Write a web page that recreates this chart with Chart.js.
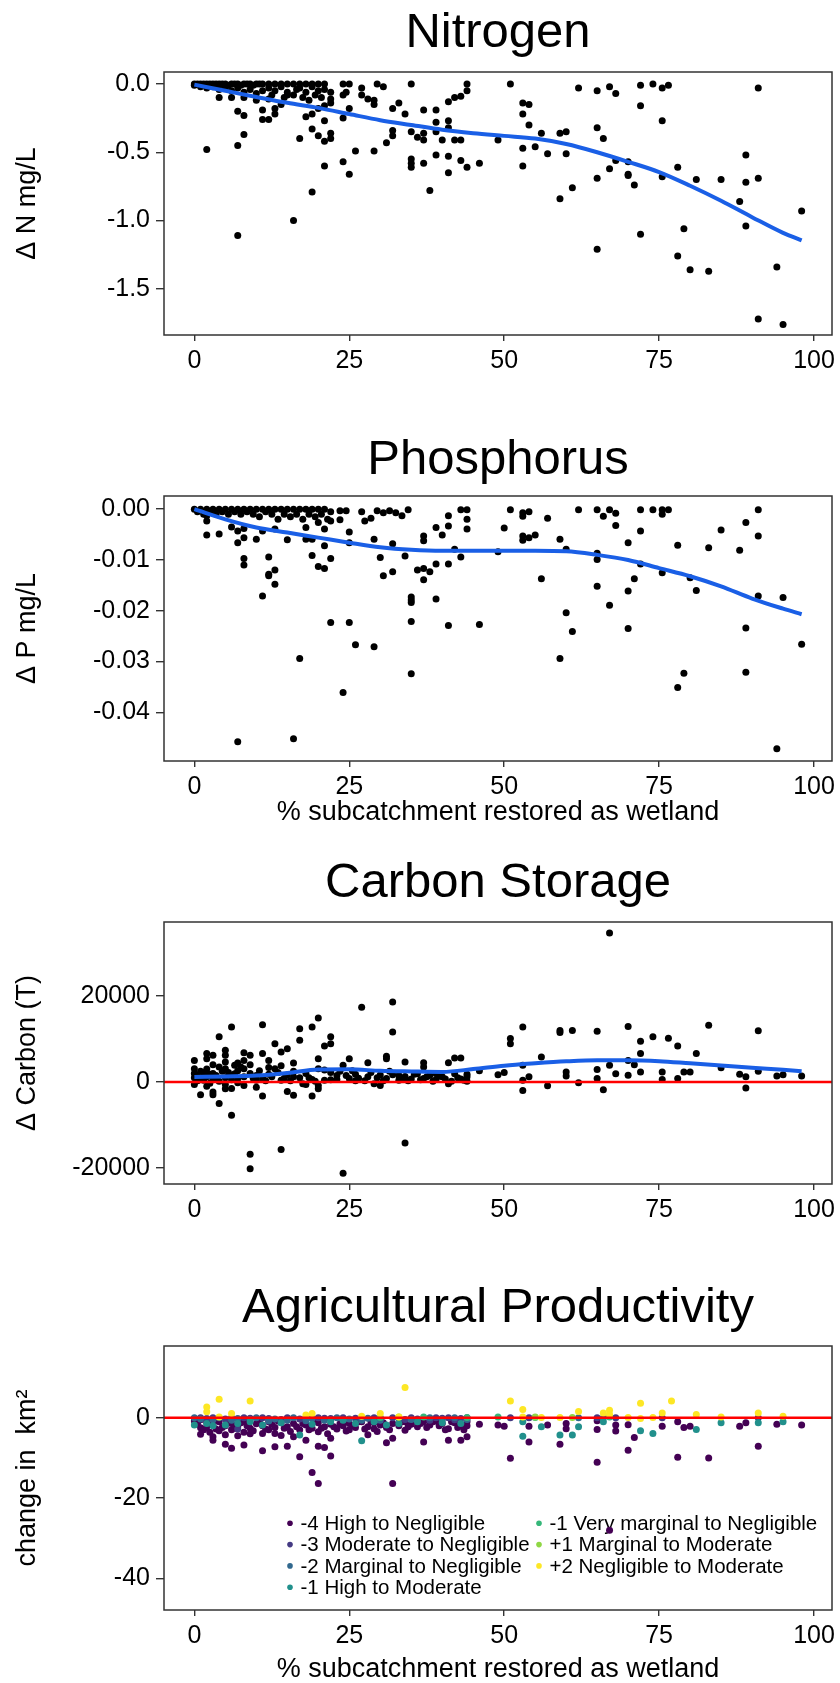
<!DOCTYPE html>
<html><head><meta charset="utf-8">
<script src="https://cdn.jsdelivr.net/npm/chart.js@4.4.1/dist/chart.umd.min.js"></script>
<style>
html,body{margin:0;padding:0;background:#fff;overflow:hidden;width:840px;height:1683px;}
.panel{position:absolute;left:0;}
canvas{display:block;}
</style></head><body>
<div class="panel" style="top:0px"><canvas id="c1" width="860" height="400"></canvas></div>
<div class="panel" style="top:400px"><canvas id="c2" width="860" height="440"></canvas></div>
<div class="panel" style="top:830px"><canvas id="c3" width="860" height="400"></canvas></div>
<div class="panel" style="top:1230px"><canvas id="c4" width="860" height="470"></canvas></div>
<script>
const FONT = "'Liberation Sans', Arial, sans-serif";

// ---------- shared x axis ----------
const xTicks = [0, 25, 50, 75, 100];
const xMin = -4.9, xMax = 102.9;
const xTitle = '% subcatchment restored as wetland';

// ---------- smoothers (loess) ----------
const smoothX = [0,5,10,15,20,25,30,35,40,45,50,55,60,65,70,75,80,85,90,95,98];
const nSmooth = [-0.005,-0.05,-0.095,-0.138,-0.175,-0.22,-0.265,-0.3,-0.335,-0.36,-0.38,-0.40,-0.44,-0.50,-0.57,-0.645,-0.745,-0.855,-0.975,-1.09,-1.145];
const pSmooth = [0,-0.0020,-0.0036,-0.0046,-0.0056,-0.0066,-0.0075,-0.0080,-0.0082,-0.0082,-0.0082,-0.0082,-0.0083,-0.0090,-0.0100,-0.0116,-0.0132,-0.0152,-0.0176,-0.0196,-0.0207];
const cSmooth = [1160,1300,1500,2100,2900,2950,2600,2450,2350,3000,3800,4350,4800,5050,5050,4850,4350,3850,3300,2850,2500];

// ---------- Nitrogen ----------
const nTicks = [0, -0.5, -1.0, -1.5];
const nitrogenPts = [
[0,0],[0,-0.01],[0.5,0],[1,0],[1,-0.02],[1.5,0],[2,0],[2,-0.03],[2.5,0],[3,0],[3,-0.02],[3.5,0],[4,0],[4,-0.04],[4.5,0],[5,0],[5,-0.03],[5.5,-0.01],[6,0],[6,-0.05],[6.5,0],[7,0],[7,-0.03],[7.5,-0.01],[8,0],[8,-0.06],[8.5,0],[9,0],[9,-0.04],[9.5,-0.01],[10,0],[10,-0.07],[10.5,0],[11,0],[11,-0.05],[12,0],[12,-0.03],[12.5,-0.08],[13,0],[13,-0.05],[14,0],[14,-0.02],[14.5,-0.1],[15,0],[15,-0.06],[16,0],[16,-0.08],[16.5,-0.04],[17,0],[17,-0.03],[17.5,-0.1],[18,0],[18,-0.06],[18.5,-0.12],[19,0],[19,-0.02],[19.5,-0.08],[20,0],[20,-0.05],[20.5,-0.1],[21,0],[21,-0.04],
[2,-0.48],[4,-0.1],[6,-0.1],[7,-0.45],[7,-1.11],[8,-0.37],[7,-0.2],[8,-0.23],[8,-0.1],[10,-0.12],[11,-0.19],[11,-0.26],[12,-0.26],[12,-0.11],[13,-0.18],[13,-0.22],[14,-0.15],[15,-0.08],[16,-1.0],[17,-0.4],[18,-0.24],[19,-0.22],[19,-0.33],[19,-0.79],[20,-0.38],[20,-0.18],[21,-0.42],[21,-0.27],[21,-0.6],[21,-0.16],[22,-0.36],[22,-0.4],[22,-0.14],[22,-0.11],[22,-0.06],[24,-0.57],[25,-0.66],[25,-0.18],[24,-0.25],[24,-0.08],[24.5,-0.06],[24,0],[25,0],[26,-0.49],[27,-0.03],[27,-0.08],[28,-0.11],[29,-0.12],[29,-0.15],[29,-0.49],[29.5,0],[30.5,-0.02],[31,-0.43],[32,-0.38],[32,-0.34],[32,-0.18],[33,-0.14],[34,-0.22],[35,-0.35],[35,0],[35,-0.55],[35,-0.58],[35,-0.61],[36,-0.39],[37,-0.36],[37,-0.41],[37,-0.19],[38,-0.78],[37,-0.58],[39,-0.19],[39,-0.28],[39,-0.35],[39,-0.52],[40,-0.41],[41,-0.27],[41,-0.32],[41,-0.13],[41,-0.53],[41,-0.65],[42,-0.41],[43,-0.41],[42,-0.1],[43,-0.09],[43,-0.56],[44,-0.61],[44,0],[44,-0.05],[46,-0.58],[49,-0.41],
[51,0],[53,-0.14],[54,-0.15],[53,-0.22],[54,-0.30],[53,-0.47],[53,-0.60],[55,-0.46],[56,-0.36],[57,-0.51],[59,-0.36],[60,-0.35],[60,-0.51],[59,-0.84],[61,-0.76],[62,-0.03],[65,-0.05],[65,-0.32],[65,-0.69],[65,-1.21],[66,-0.40],[67,-0.02],[68,-0.07],[68,-0.56],[67,-0.62],[70,-0.57],[70,-0.66],[70,-0.67],[71,-0.74],[72,-0.01],[72,-0.16],[72,-1.10],[74,0],[75.5,-0.03],[76.5,-0.01],[75.5,-0.27],[75.5,-0.68],[78,-0.61],[78,-1.26],[79,-1.06],[80,-1.36],[83,-1.37],[81,-0.70],[85,-0.70],[88,-0.86],[89,-0.52],[89,-0.72],[89,-1.04],[91,-0.03],[91,-0.69],[91,-1.72],[95,-1.76],[94,-1.34],[98,-0.93]
];

// ---------- Phosphorus ----------
const pTicks = [0, -0.01, -0.02, -0.03, -0.04];
const phosphorusPts = [
[0,0],[0.5,-0.0005],[1,0],[1.5,-0.001],[2,0],[2.5,-0.0005],[3,0],[3.5,-0.001],[4,0],[4.5,-0.0005],[5,0],[5.5,-0.001],[6,0],[6.5,-0.0005],[7,0],[7.5,-0.001],[8,0],[8.5,-0.0005],[9,0],[9.5,-0.001],[10,0],[10.5,-0.0015],[11,0],[11.5,-0.0005],[12,0],[12.5,-0.001],[13,0],[13.5,-0.002],[14,0],[14.5,-0.001],[15,0],[15.5,-0.0015],[16,0],[16.5,-0.001],[17,0],[17.5,-0.002],[18,0],[18.5,-0.001],[19,0],[19.5,-0.0015],[20,0],[20.5,-0.001],[21,0],[21.5,-0.002],[22,-0.0005],
[7,-0.0458],[16,-0.0452],[17,-0.0294],[24,-0.0361],[22,-0.0223],[25,-0.0223],[26,-0.0267],[29,-0.0271],[35,-0.0324],[35,-0.0221],[35,-0.0173],[35,-0.0179],[35,-0.0184],[39,-0.0177],[41,-0.0229],[46,-0.0227],[11,-0.0171],[12,-0.0094],[12,-0.0128],[13,-0.0120],[12,-0.0131],[13,-0.0148],[8,-0.0097],[8,-0.0110],[2,-0.0051],[4,-0.0049],[2,-0.0023],[2,-0.0013],[6,-0.0035],[7,-0.0043],[8,-0.0038],[7,-0.0066],[8,-0.0056],[10,-0.0059],[11,-0.0043],[13,-0.0039],[15,-0.0060],[18,-0.0059],[19,-0.0059],[18,-0.0036],[19,-0.0091],[20,-0.0113],[21,-0.0117],[21,-0.0072],[22,-0.0097],[21,-0.0039],[22,-0.0023],[20,-0.0026],[25,-0.0045],[25,-0.0066],[23.5,-0.0003],[23.5,-0.0021],[24.5,-0.0003],[27,-0.0005],[27.5,-0.0023],[28.5,-0.0018],[29.5,-0.0003],[30.5,-0.0007],[31.5,-0.0003],[32.5,-0.0007],[33.5,-0.0013],[34.5,-0.0001],[29,-0.0059],[30,-0.0095],[30.5,-0.0131],[32,-0.0123],[32,-0.0068],[34,-0.0092],[36,-0.0120],[37,-0.0117],[37,-0.0139],[38,-0.0123],[37,-0.0053],[37,-0.0062],[39,-0.0036],[39,-0.0108],[40,-0.0051],[41,-0.0013],[41,-0.0033],[41,-0.0108],[42,-0.0079],[43,-0.0094],[43,-0.0001],[44,-0.0001],[44,-0.0020],[44,-0.0039],[49,-0.0084],
[51,-0.0001],[50,-0.0037],[53,-0.0007],[53,-0.0014],[54,-0.0005],[53,-0.0053],[53,-0.0061],[54,-0.0056],[55,-0.0051],[57,-0.0018],[56,-0.0137],[59,-0.0059],[60,-0.0079],[59,-0.0294],[60,-0.0204],[61,-0.0241],[62,-0.0001],[65,-0.0001],[65,-0.0087],[65,-0.0099],[65,-0.0152],[66,-0.0014],[67,-0.0001],[68,-0.0008],[68,-0.0032],[67,-0.0189],[70,-0.0066],[70,-0.0161],[70,-0.0235],[71,-0.0137],[72,-0.0001],[72,-0.0043],[72,-0.0108],[74,-0.0001],[75.5,-0.0001],[75.5,-0.0010],[76.5,-0.0001],[75.5,-0.0125],[78,-0.0071],[78,-0.0351],[79,-0.0323],[80,-0.0135],[81,-0.0160],[83,-0.0076],[85,-0.0041],[88,-0.0081],[89,-0.0026],[89,-0.0234],[89,-0.0321],[91,-0.0001],[91,-0.0053],[91,-0.0171],[94,-0.0472],[95,-0.0174],[98,-0.0266]
];

// ---------- Carbon ----------
const cTicks = [20000, 0, -20000];
const carbonPts = [
[0,5000],[0,3100],[0,-600],[0,1000],[0,2000],[0.5,1500],[1,-2950],[1,800],[1,2500],[1.5,400],[2,6600],[2,5400],[2,3000],[2,1200],[2.5,-300],[3,6200],[3,-2300],[3,-2950],[3,2000],[3,600],[3.5,1500],[4,10500],[4,-5000],[4,3500],[4,200],[5,7400],[5,6200],[5,4650],[5,3100],[5,-1550],[5,1000],[5.5,2200],[6,12800],[6,-7750],[6,500],[6.5,3900],[6.5,1900],[7,-200],[7,2600],[8,6800],[9,6200],[8,5000],[8,3100],[8,-800],[8,1200],[9,-16800],[9,-20150],[9,2000],[10,400],[10,1500],[11,13300],[11,6600],[11,-3250],[11,800],[12,5000],[12,1800],[13,8900],[13,3100],[14,7000],[14,-15700],[14,400],[15,7750],[15,-2200],[15,1600],[16,-3100],[16,2500],[17,12400],[17,9700],[17,1000],[17.5,-400],[18,2000],[19,12800],[20,14900],[19,-3250],[20,5400],[20,3100],[20,-800],[20,-1550],[19,600],[21,8400],[22,10500],[22,8900],[22,2200],[22,500],[23,1500],[24,-21200],[24,3900],[25,5400],[25,800],[26,1800],[26,300],[27,17400],[28,4500],[28,1200],[29,-400],[30,-800],[30,1600],[31,6000],[31,5400],[31,800],[32,18600],[32,11600],[32,1700],[33,400],[34,4650],[34,-14200],[34,1300],[35,700],[36,1900],[37,4500],[37,3500],[37,800],[38,1500],[39,600],[39,2000],[40,1200],[41,4500],[42,5600],[43,5600],[41,-400],[42,1900],[43,700],[44,200],[44,1800],[46,2600],[49,1700],[50,2200],
[0.5,300],[1.5,2200],[2.5,1800],[3.5,700],[4.5,2500],[6,1500],[7,800],[7.5,3500],[9.5,900],[10.5,2600],[11.5,300],[12.5,1200],[13.5,2200],[14.5,900],[15.5,300],[16,1200],[18.5,1000],[19.5,200],[21,400],[21,2800],[23,600],[23.5,2500],[24.5,1500],[25.5,2600],[26.5,900],[27.5,300],[28.5,2200],[29.5,1000],[30.5,300],[31.5,2500],[33,1500],[33.5,700],[34.5,300],[35.5,1800],[36.5,500],[37.5,1200],[38.5,200],[39.5,1400],[40.5,700],[41.5,200],[42.5,1000],[43.5,400],[44,1200],[3,4000],[5,-600],[7,4400],[9,4000],[10,-1200],[12,3400],[14,3800],[16,4400],[18,-600],[2,-1000],[6,-1500],
[51,10100],[51,8900],[53,12800],[53,3900],[53,400],[53,-1950],[54,1200],[56,5800],[57,-900],[59,12000],[59,11500],[60,2300],[60,1400],[61,12000],[62,-200],[65,11800],[65,2900],[65,800],[66,-1800],[67,34650],[67,3900],[68,1900],[70,12900],[70,5000],[70,1550],[71,4000],[72,9500],[72,6600],[72,2300],[74,10500],[75.5,2300],[75.5,600],[76.5,10200],[78,8400],[78,800],[79,2300],[80,2300],[81,6600],[83,13200],[85,3300],[88,1800],[89,1200],[89,-1400],[91,11900],[91,2500],[94,1400],[95,1700],[98,1400]
];

// ---------- Agricultural productivity ----------
const aTicks = [0, -20, -40];
const catLabels = ['-4 High to Negligible','-3 Moderate to Negligible','-2 Marginal to Negligible','-1 High to Moderate','-1 Very marginal to Negligible','+1 Marginal to Moderate','+2 Negligible to Moderate'];
const catColors = ['#440154','#443A83','#31688E','#21908C','#35B779','#8FD744','#FDE725'];
const agriPts = [
[0,-0.8,0],[0.5,-1.5,0],[1,-2.5,0],[1,-0.5,0],[1.5,-3.0,0],[2,-1.2,0],[2,-2.2,0],[2.5,-3.6,0],[3,-4.7,0],[3,-5.6,0],[3,-1.8,0],[3.5,-2.8,0],[4,-1.0,0],[4,-3.2,0],[5,-6.6,0],[5,-4.2,0],[5,-2.0,0],[1,-4.1,0],[6,-7.6,0],[6,-3.0,0],[6,-1.4,0],[7,-2.2,0],[7,-4.5,0],[8,-6.8,0],[8,-3.6,0],[8,-1.0,0],[9,-2.6,0],[9,-4.0,0],[10,-1.5,0],[11,-8.2,0],[11,-3.9,0],[11,-2.0,0],[12,-1.0,0],[12,-3.0,0],[13,-7.2,0],[13,-3.9,0],[13,-2.4,0],[14,-1.2,0],[14,-4.4,0],[15,-7.1,0],[15,-2.2,0],[16,-4.7,0],[16,-1.4,0],[17,-9.7,0],[17,-3.0,0],[18,-5.6,0],[18,-1.8,0],[19,-13.6,0],[19,-2.6,0],[20,-16.4,0],[20,-7.1,0],[20,-3.5,0],[20,-1.2,0],[21,-7.4,0],[21,-2.2,0],[22,-9.5,0],[22,-5.1,0],[22,-1.6,0],[23,-2.8,0],[24,-1.0,0],[24,-2.0,0],[25,-3.0,0],[25,-1.4,0],[26,-2.4,0],[27,-1.0,0],[28,-4.2,0],[28,-2.2,0],[29,-2.7,0],[29,-1.2,0],[30,-1.8,0],[31,-6.2,0],[31,-2.4,0],[32,-16.4,0],[32,-5.1,0],[32,-1.4,0],[33,-2.0,0],[34,-3.1,0],[34,-1.0,0],[35,-1.6,0],[36,-2.2,0],[37,-6.0,0],[37,-1.0,0],[38,-1.8,0],[39,-0.8,0],[40,-1.4,0],[41,-2.7,0],[41,-5.6,0],[42,-1.2,0],[43,-5.6,0],[43,-2.0,0],[44,-4.7,0],[44,-1.0,0],[46,-1.6,0],
[0.5,-0.4,0],[2.5,-1.0,0],[3.5,-0.6,0],[4.5,-2.4,0],[5.5,-0.8,0],[6.5,-2.6,0],[7.5,-1.2,0],[8.5,-2.0,0],[9.5,-3.2,0],[10.5,-1.0,0],[11.5,-2.8,0],[12.5,-1.6,0],[13.5,-0.8,0],[14.5,-2.6,0],[15.5,-3.4,0],[16.5,-2.2,0],[17.5,-1.4,0],[18.5,-3.0,0],[19.5,-0.8,0],[20.5,-2.6,0],[21.5,-4.0,0],[22.5,-2.2,0],[23.5,-1.5,0],[24.5,-3.3,0],[25.5,-2.0,0],[26.5,-1.0,0],[27.5,-2.8,0],[28.5,-1.0,0],[29.5,-3.4,0],[30.5,-1.2,0],[31.5,-3.0,0],[33.5,-1.0,0],[34.5,-2.2,0],[35.5,-0.8,0],[36.5,-1.4,0],[37.5,-2.4,0],[38.5,-1.0,0],[39.5,-2.0,0],[40.5,-3.0,0],[41.5,-1.0,0],[42.5,-2.4,0],[43.5,-3.0,0],[44,-2.0,0],
[49,-1.8,0],[50,-2.1,0],[51,-10.1,0],[54,-2.1,0],[54,-6.0,0],[57,-1.8,0],[59,-6.6,0],[60,-1.4,0],[60,-2.7,0],[65,-2.9,0],[65,-0.7,0],[65,-11.1,0],[67,-28,0],[68,-1.8,0],[68,-3.3,0],[70,-1.7,0],[70,-8.1,0],[71,-4.9,0],[75.5,-2.1,0],[78,-1.0,0],[78,-9.8,0],[79,-2.4,0],[80,-2.1,0],[83,-10.0,0],[88,-2.1,0],[89,-1.2,0],[91,-7.1,0],[94,-1.6,0],[98,-1.8,0],
[2,-0.2,1],[5,-0.3,1],[9,-0.1,1],[12,-0.2,1],[14,-0.4,1],[17,-0.3,1],[22,-0.2,1],[26,-0.1,1],[30,-0.2,1],[36,-0.3,1],[40,-0.1,1],[43,-0.2,1],[51,0,1],[54,0,1],[65,0,1],[68,0,1],[75.5,0,1],[91,0,1],[7,-2.8,1],
[1,0,1],[3,0,1],[6,0,1],[8,0,1],[11,0,1],[15,0,1],[18,0,1],[20,0,1],[21,-0.1,1],[24,0,1],[27,0,1],[29,0,1],[32,0,1],[35,0,1],[39,0,1],[41,0,1],[44,0,1],[34,-0.4,1],[38,-0.6,1],[42,-0.5,1],
[1,-0.3,2],[4,0,2],[7,-0.2,2],[10,0,2],[13,-0.3,2],[16,0,2],[19,-0.2,2],[23,0,2],[28,-0.1,2],[33,-0.1,2],[38,0,2],[42,0,2],[62,0,2],[66,0,2],
[0,0,2],[3,-0.5,2],[6,-0.6,2],[9,-0.5,2],[12,-0.8,2],[15,-0.6,2],[18,-0.7,2],[21,-0.6,2],[25,-0.3,2],[27,-0.6,2],[30,-0.6,2],[35,-0.4,2],[40,-0.5,2],[44,-0.4,2],
[0,-1.8,3],[2,-1.4,3],[5,-1.8,3],[9,-1.0,3],[17,-4.3,3],[27,-5.7,3],[31,-1.8,3],[24,-0.6,3],[53,-4.6,3],[53,-1.0,3],[56,-2.2,3],[59,-4.3,3],[61,-4.3,3],[62,-2.2,3],[66,-1.0,3],[72,-3.2,3],[74,-3.9,3],[81,-2.9,3],[85,-1.2,3],[91,-1.2,3],[95,-1.0,3],
[3,-2.0,3],[7,-1.4,3],[11,-1.8,3],[14,-1.2,3],[19,-1.6,3],[22,-1.0,3],[26,-1.4,3],[29,-1.0,3],[33,-1.4,3],[36,-1.0,3],[40,-1.2,3],[43,-1.4,3],
[30,0.1,4],[37,0.2,4],[49,0.2,4],[55,0.1,4],[67,0.2,4],[44,0.1,4],
[55,0.2,5],[61,0.1,5],[33,0.2,5],
[2,2.7,6],[2,1.5,6],[4,4.6,6],[9,4.2,6],[34,7.55,6],[4,0.2,6],[6,1.1,6],[18,0.7,6],[19,1.1,6],[30,1.1,6],[27,0.4,6],[33,0.2,6],[51,4.2,6],[53,2.1,6],[53,0.2,6],[56,0.1,6],[59,0.1,6],[62,1.6,6],[66,1.2,6],[67,1.9,6],[67,0.8,6],[70,0.1,6],[72,3.6,6],[72,-0.2,6],[74,0.1,6],[75.5,1.2,6],[77,4.2,6],[81,0.8,6],[85,0.2,6],[91,1.2,6],[95,0.4,6]
];

// ---------- helpers ----------
const framePlugin = {
  id: 'frame',
  afterDraw(chart) {
    const a = chart.chartArea, ctx = chart.ctx;
    ctx.save();
    ctx.strokeStyle = '#333333';
    ctx.lineWidth = 1.5;
    ctx.strokeRect(a.left, a.top, a.right - a.left, a.bottom - a.top);
    ctx.restore();
  }
};

const legendPlugin = {
  id: 'catLegend',
  beforeDatasetsDraw(chart) {
    const a = chart.chartArea, ctx = chart.ctx;
    ctx.save();
    ctx.font = '20.5px ' + FONT;
    ctx.textBaseline = 'middle';
    ctx.textAlign = 'left';
    catLabels.forEach((lab, i) => {
      const col = i < 4 ? 0 : 1;
      const row = i < 4 ? i : i - 4;
      const x = a.left + (col ? 375 : 126);
      const y = a.top + 177.3 + row * 21.3;
      ctx.fillStyle = catColors[i];
      ctx.beginPath(); ctx.arc(x, y, 2.8, 0, Math.PI * 2); ctx.fill();
      ctx.fillStyle = '#000';
      ctx.fillText(lab, x + 10.5, y + 1);
    });
    ctx.restore();
  }
};

function toXY(pts) { return pts.map(p => ({x: p[0], y: p[1]})); }
function smooth(vals) { return smoothX.map((x, i) => ({x: x, y: vals[i]})); }

function opts(p) {
  return {
    responsive: false, animation: false, devicePixelRatio: 1,
    layout: {padding: {left: 0, right: 28, top: 0, bottom: 0}},
    plugins: {
      legend: {display: false}, tooltip: {enabled: false},
      title: {display: true, text: p.title, fullSize: false, color: '#000',
        font: {family: FONT, size: 49, weight: 'normal', lineHeight: 1.2},
        padding: {top: p.tpt, bottom: p.tpb}}
    },
    scales: {
      x: {
        type: 'linear', position: 'bottom', min: xMin, max: xMax,
        afterFit: s => { s.height = p.xh; },
        afterBuildTicks: s => { s.ticks = xTicks.map(v => ({value: v})); },
        grid: {display: true, drawOnChartArea: false, drawTicks: true, tickLength: 6, color: '#333', lineWidth: 1.4},
        border: {display: false},
        ticks: {color: '#000', font: {family: FONT, size: 25}, padding: 5, maxRotation: 0, autoSkip: false},
        title: p.xTitle ? {display: true, text: p.xTitle, color: '#000', font: {family: FONT, size: 27, lineHeight: 1.2}, padding: {top: 0, bottom: p.xtpb}} : {display: false}
      },
      y: {
        type: 'linear', position: 'left', min: p.yMin, max: p.yMax,
        afterFit: s => { s.width = 164; },
        afterBuildTicks: s => { s.ticks = p.yTicks.map(v => ({value: v})); },
        grid: {display: true, drawOnChartArea: false, drawTicks: true, tickLength: 8, color: '#333', lineWidth: 1.4},
        border: {display: false},
        ticks: {color: '#000', font: {family: FONT, size: 25}, padding: 6, autoSkip: false, callback: p.fmt},
        title: {display: true, text: p.yTitle, color: '#000', font: {family: FONT, size: 27, lineHeight: 1.2}, padding: {top: 11, bottom: 0}}
      }
    }
  };
}

const pointStyle = {type: 'scatter', pointRadius: 3.5, pointHoverRadius: 3.5, borderWidth: 0, backgroundColor: '#000', order: 5};
function smoothDs(vals) {
  return {type: 'line', data: smooth(vals), borderColor: '#1a5fe6', borderWidth: 4, pointRadius: 0,
    tension: 0.4, cubicInterpolationMode: 'monotone', fill: false, order: 2};
}
function zeroLine() {
  return {type: 'line', data: [{x: xMin, y: 0}, {x: xMax, y: 0}], borderColor: '#ff0000', borderWidth: 2.6,
    pointRadius: 0, fill: false, order: 0};
}

// Panel 1
new Chart(document.getElementById('c1'), {
  type: 'scatter',
  data: {datasets: [Object.assign({data: toXY(nitrogenPts)}, pointStyle), smoothDs(nSmooth)]},
  options: opts({title: 'Nitrogen', tpt: 4.5, tpb: 8.7, xh: 65, yMin: -1.8375, yMax: 0.0875,
    yTicks: nTicks, fmt: v => Number(v).toFixed(1), yTitle: 'Δ N mg/L'}),
  plugins: [framePlugin]
});

// Panel 2
new Chart(document.getElementById('c2'), {
  type: 'scatter',
  data: {datasets: [Object.assign({data: toXY(phosphorusPts)}, pointStyle), smoothDs(pSmooth)]},
  options: opts({title: 'Phosphorus', tpt: 30.6, tpb: 6.6, xh: 79, yMin: -0.0496, yMax: 0.0026,
    yTicks: pTicks, fmt: v => Number(v).toFixed(2), yTitle: 'Δ P mg/L', xTitle: xTitle, xtpb: 10.8}),
  plugins: [framePlugin]
});

// Panel 3
new Chart(document.getElementById('c3'), {
  type: 'scatter',
  data: {datasets: [Object.assign({data: toXY(carbonPts)}, pointStyle), smoothDs(cSmooth), zeroLine()]},
  options: opts({title: 'Carbon Storage', tpt: 23.6, tpb: 9.6, xh: 46, yMin: -23720, yMax: 37209,
    yTicks: cTicks, fmt: v => String(v), yTitle: 'Δ Carbon (T)'}),
  plugins: [framePlugin]
});

// Panel 4
const agriDatasets = catLabels.map((lab, k) => ({
  type: 'scatter', label: lab,
  data: agriPts.filter(p => p[2] === k).map(p => ({x: p[0], y: p[1]})),
  pointRadius: 3.5, pointHoverRadius: 3.5, borderWidth: 0, backgroundColor: catColors[k], order: 20 - k
}));
new Chart(document.getElementById('c4'), {
  type: 'scatter',
  data: {datasets: agriDatasets.concat([zeroLine()])},
  options: opts({title: 'Agricultural Productivity', tpt: 49, tpb: 8.2, xh: 90, yMin: -47.9, yMax: 17.9,
    yTicks: aTicks, fmt: v => String(v), yTitle: 'change in  km²', xTitle: xTitle, xtpb: 13.8}),
  plugins: [framePlugin, legendPlugin]
});
</script>
</body></html>
